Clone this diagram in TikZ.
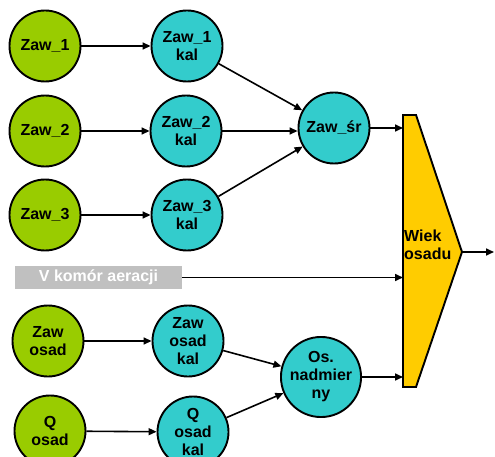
\documentclass[tikz,border=0pt]{standalone}
\usepackage{fontspec}
\setmainfont{Liberation Sans}
\usetikzlibrary{arrows.meta}
\definecolor{srcgreen}{RGB}{153,204,0}
\definecolor{calcyan}{RGB}{51,204,204}
\definecolor{agegold}{RGB}{255,204,0}
\definecolor{boxgray}{RGB}{192,192,192}
\tikzset{
  lbl/.style={font=\bfseries\fontsize{16}{18}\selectfont, align=center},
  srcnode/.style={circle, draw=black, line width=1.9pt, fill=srcgreen, minimum size=71pt, inner sep=0pt, lbl},
  calnode/.style={circle, draw=black, line width=1.9pt, fill=calcyan, minimum size=71pt, inner sep=0pt, lbl},
  arr/.style={line width=1.6pt, -{Triangle[length=8pt,width=7pt]}},
}
\begin{document}
\begin{tikzpicture}[x=1pt,y=-1pt]
\useasboundingbox (0,0) rectangle (495,457);
\clip (0,0) rectangle (495,457);

% inputs
\node[srcnode] (g1) at (45,46) {Zaw\_1};
\node[srcnode] (g2) at (45,131) {Zaw\_2};
\node[srcnode] (g3) at (45,215) {Zaw\_3};
\node[srcnode] (g4) at (48,341) {Zaw\\osad};
\node[srcnode] (g5) at (50,431) {Q\\osad};

% calibrated values
\node[calnode] (c1) at (187,46) {Zaw\_1\\kal};
\node[calnode] (c2) at (186,131) {Zaw\_2\\kal};
\node[calnode] (c3) at (187,215) {Zaw\_3\\kal};
\node[calnode] (c4) at (188,341) {Zaw\\osad\\kal};
\node[calnode] (c5) at (193,432) {Q\\osad\\kal};

\node[calnode] (sr) at (334,128) {Zaw\_śr};
\node[calnode] (os) at (321,377) {Os.\\nadmier\\ny};

% aeration tank volume
\node[fill=boxgray, minimum width=167pt, minimum height=23pt, inner sep=0pt,
      text=white, lbl] (vbox) at (98.5,277.5) {V komór aeracji};

% sludge age block
\coordinate (tl) at (403,115);
\coordinate (tr) at (416,115);
\coordinate (tip) at (462,252);
\coordinate (br) at (416,387);
\coordinate (bl) at (403,387);
\coordinate (outend) at (494,252);
\draw[line width=1.9pt, fill=agegold, line join=miter] (tl) -- (tr) -- (tip) -- (br) -- (bl) -- cycle;
\node[lbl, align=left, anchor=west, inner sep=0pt] (age) at (404,245) {Wiek\\osadu};

% connections
\draw[arr] (g1) -- (c1);
\draw[arr] (g2) -- (c2);
\draw[arr] (g3) -- (c3);
\draw[arr] (g4) -- (c4);
\draw[arr] (g5) -- (c5);
\draw[arr] (c1) -- (sr);
\draw[arr] (c2) -- (c2 -| sr.west);
\draw[arr] (c3) -- (sr);
\draw[arr] (c4) -- (os);
\draw[arr] (c5) -- (os);
\draw[arr] (sr) -- (sr -| tl);
\draw[arr] (vbox) -- (vbox -| tl);
\draw[arr] (os) -- (os -| tl);
\draw[arr] (tip) -- (outend);
\end{tikzpicture}
\end{document}
